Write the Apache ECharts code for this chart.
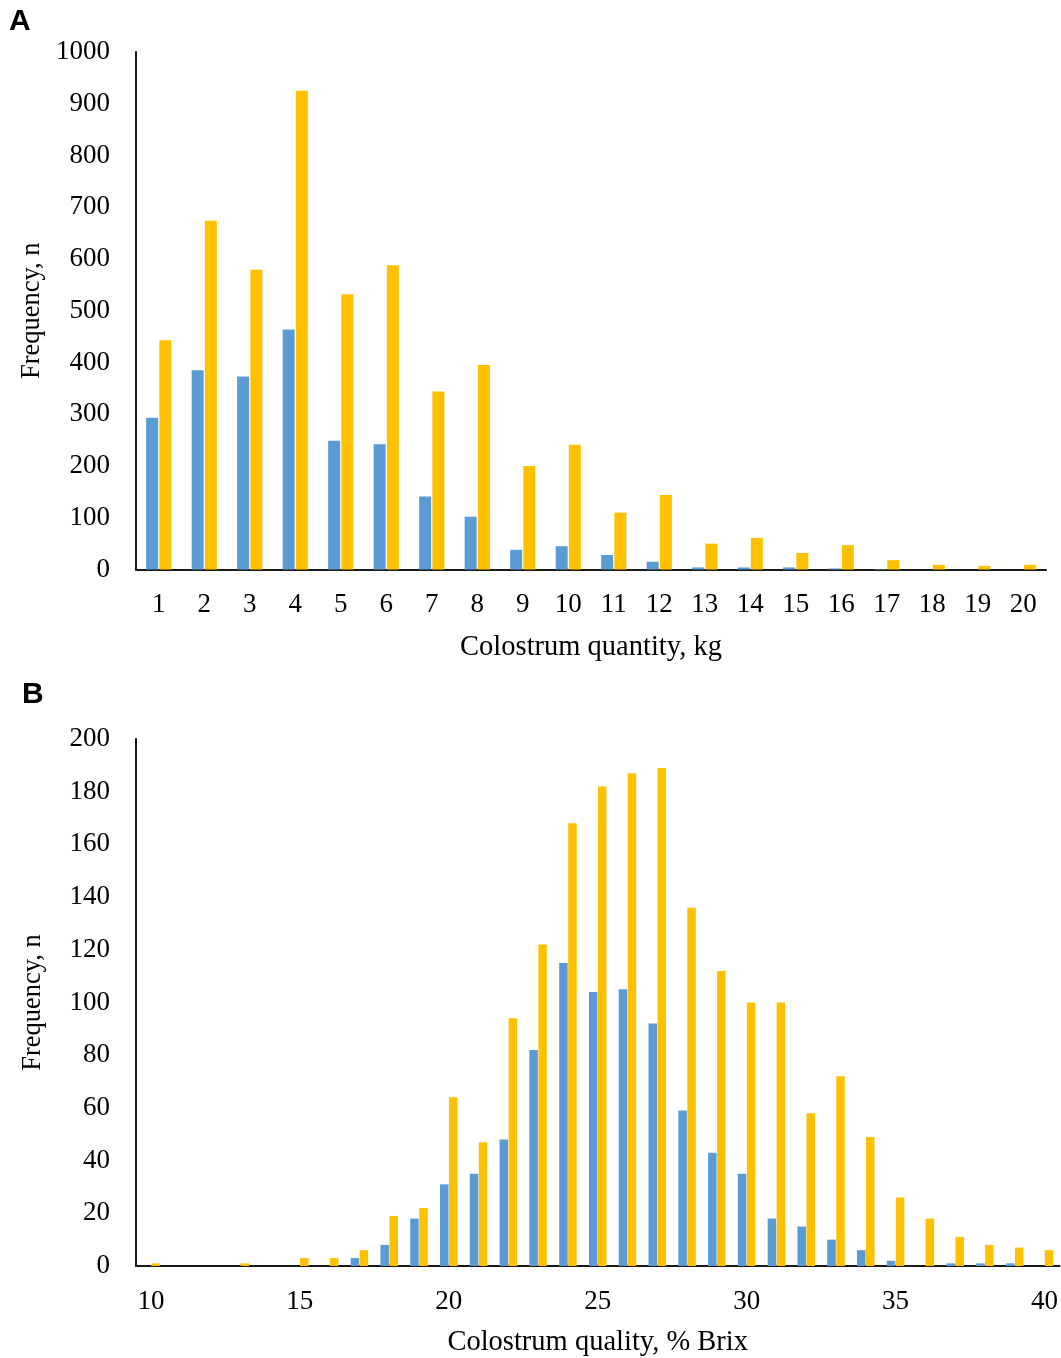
<!DOCTYPE html>
<html>
<head>
<meta charset="utf-8">
<script src="https://cdn.jsdelivr.net/npm/echarts@6/dist/echarts.min.js"></script>
<style>
html,body{margin:0;padding:0;background:#fff;}
#c{width:1061px;height:1358px;}
</style>
</head>
<body>
<div id="c"></div>
<script>
// Panel A: colostrum quantity (kg)
var quantityCategories = ['1','2','3','4','5','6','7','8','9','10','11','12','13','14','15','16','17','18','19','20'];
var quantityBlue   = [293, 385, 373, 464, 249, 242, 141, 102, 38, 45, 28, 15, 4, 4, 4, 2, 1, 0, 0, 0];
var quantityYellow = [443, 674, 579, 925, 532, 588, 344, 395, 200, 241, 110, 144, 50, 61, 32, 47, 18, 9, 7, 9];

// Panel B: colostrum quality (% Brix)
var qualityCategories = ['10','11','12','13','14','15','16','17','18','19','20','21','22','23','24','25','26','27','28','29','30','31','32','33','34','35','36','37','38','39','40'];
var qualityBlue   = [0, 0, 0, 0, 0, 0, 0, 3, 8, 18, 31, 35, 48, 82, 115, 104, 105, 92, 59, 43, 35, 18, 15, 10, 6, 2, 0, 1, 1, 1, 0];
var qualityYellow = [1, 0, 0, 1, 0, 3, 3, 6, 19, 22, 64, 47, 94, 122, 168, 182, 187, 189, 136, 112, 100, 100, 58, 72, 49, 26, 18, 11, 8, 7, 6];

var BLUE = '#5B9BD5', YELLOW = '#FFC000';
var SERIF = '"Liberation Serif","Times New Roman",serif';
var axisLine = {show: true, lineStyle: {color: '#1a1a1a', width: 2}};
var plain = function (v) { return String(v); };

// hide zero-height bars (no mark drawn for 0 counts)
function bars(arr) { return arr.map(function (v) { return v === 0 ? '-' : v; }); }

var chart = echarts.init(document.getElementById('c'), null, {renderer: 'canvas'});
chart.setOption({
  animation: false,
  backgroundColor: '#fff',
  graphic: [
    {type: 'text', left: 9, top: 7, style: {text: 'A', font: 'bold 30px "Liberation Sans", Arial, sans-serif', fill: '#000'}},
    {type: 'text', left: 22, top: 680, style: {text: 'B', font: 'bold 30px "Liberation Sans", Arial, sans-serif', fill: '#000'}}
  ],
  grid: [
    {left: 136, top: 52, width: 910, height: 517.5},
    {left: 136, top: 739, width: 924, height: 528}
  ],
  xAxis: [
    {type: 'category', gridIndex: 0, data: quantityCategories,
     axisLine: axisLine, axisTick: {show: false},
     axisLabel: {color: '#000', fontFamily: SERIF, fontSize: 27, margin: 22},
     name: 'Colostrum quantity, kg', nameLocation: 'middle', nameGap: 64,
     nameTextStyle: {color: '#000', fontFamily: SERIF, fontSize: 28.5}},
    {type: 'category', gridIndex: 1, data: qualityCategories,
     axisLine: axisLine, axisTick: {show: false},
     axisLabel: {color: '#000', fontFamily: SERIF, fontSize: 27, margin: 22, interval: 4},
     name: 'Colostrum quality, % Brix', nameLocation: 'middle', nameGap: 62,
     nameTextStyle: {color: '#000', fontFamily: SERIF, fontSize: 28.5}}
  ],
  yAxis: [
    {type: 'value', gridIndex: 0, min: 0, max: 1000, interval: 100,
     axisLine: axisLine, axisTick: {show: false}, splitLine: {show: false},
     axisLabel: {color: '#000', fontFamily: SERIF, fontSize: 27, margin: 26, formatter: plain},
     name: 'Frequency, n', nameLocation: 'middle', nameGap: 89,
     nameTextStyle: {color: '#000', fontFamily: SERIF, fontSize: 26.5}},
    {type: 'value', gridIndex: 1, min: 0, max: 200, interval: 20,
     axisLine: axisLine, axisTick: {show: false}, splitLine: {show: false},
     axisLabel: {color: '#000', fontFamily: SERIF, fontSize: 27, margin: 26, formatter: plain},
     name: 'Frequency, n', nameLocation: 'middle', nameGap: 89,
     nameTextStyle: {color: '#000', fontFamily: SERIF, fontSize: 26.5}}
  ],
  series: [
    {type: 'bar', name: 'Group 1', xAxisIndex: 0, yAxisIndex: 0, data: bars(quantityBlue),
     barWidth: 12, barGap: '10%', itemStyle: {color: BLUE}},
    {type: 'bar', name: 'Group 2', xAxisIndex: 0, yAxisIndex: 0, data: bars(quantityYellow),
     barWidth: 12, barGap: '10%', itemStyle: {color: YELLOW}},
    {type: 'bar', name: 'Group 1', xAxisIndex: 1, yAxisIndex: 1, data: bars(qualityBlue),
     barWidth: 8.5, barGap: '6%', itemStyle: {color: BLUE}},
    {type: 'bar', name: 'Group 2', xAxisIndex: 1, yAxisIndex: 1, data: bars(qualityYellow),
     barWidth: 8.5, barGap: '6%', itemStyle: {color: YELLOW}}
  ]
});
</script>
</body>
</html>
